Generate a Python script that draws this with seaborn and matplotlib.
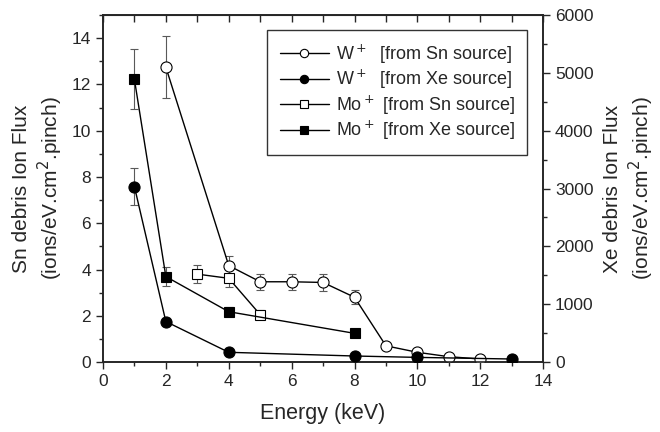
import numpy as np
import pandas as pd
import matplotlib
matplotlib.use("Agg")
import matplotlib.pyplot as plt
import seaborn as sns
from matplotlib.ticker import MultipleLocator

# W+ from Sn source (left axis)
w_sn_e = [2, 4, 5, 6, 7, 8, 9, 10, 11, 12]
w_sn_flux = [12.75, 4.17, 3.47, 3.47, 3.44, 2.8, 0.7, 0.42, 0.23, 0.13]
w_sn_err = [1.35, 0.42, 0.35, 0.35, 0.35, 0.3, 0.1, 0.08, 0.06, 0.05]

# Mo+ from Sn source (left axis)
mo_sn_e = [3, 4, 5]
mo_sn_flux = [3.8, 3.62, 2.05]
mo_sn_err = [0.4, 0.38, 0.2]

# W+ from Xe source (right axis)
w_xe_e = [1, 2, 4, 8, 10, 13]
w_xe_flux = [3035, 700, 168, 104, 80, 52]
w_xe_err = [320, 60, 20, 15, 12, 10]

# Mo+ from Xe source (right axis)
mo_xe_e = [1, 2, 4, 8]
mo_xe_flux = [4890, 1478, 870, 496]
mo_xe_err = [520, 160, 80, 20]

sns.set_style("ticks")
plt.rcParams['font.family'] = ['Liberation Sans', 'DejaVu Sans']

fig = plt.figure(figsize=(6.6, 4.32), dpi=100)
ax = fig.add_axes([0.156, 0.162, 0.667, 0.803])
ax2 = ax.twinx()


def draw(axis, e, flux, err, marker, filled, label):
    df = pd.DataFrame({"e": e, "flux": flux})
    axis.errorbar(e, flux, yerr=err, fmt="none", ecolor="0.35", elinewidth=0.8,
                  capsize=3, capthick=0.8, zorder=2)
    sns.lineplot(data=df, x="e", y="flux", ax=axis, color="black", lw=1.0,
                 marker=marker, markersize=8 if marker == "o" else 7,
                 markerfacecolor="black" if filled else "white",
                 markeredgecolor="black", markeredgewidth=0.8,
                 label=label, legend=False, zorder=3)


draw(ax, w_sn_e, w_sn_flux, w_sn_err, "o", False, r"W$^+$  [from Sn source]")
draw(ax, mo_sn_e, mo_sn_flux, mo_sn_err, "s", False, r"Mo$^+$ [from Sn source]")
draw(ax2, w_xe_e, w_xe_flux, w_xe_err, "o", True, r"W$^+$  [from Xe source]")
draw(ax2, mo_xe_e, mo_xe_flux, mo_xe_err, "s", True, r"Mo$^+$ [from Xe source]")

ax.set_xlim(0, 14)
ax.set_ylim(0, 15)
ax2.set_ylim(0, 6000)
ax.xaxis.set_major_locator(MultipleLocator(2))
ax.xaxis.set_minor_locator(MultipleLocator(1))
ax.yaxis.set_major_locator(MultipleLocator(2))
ax.yaxis.set_minor_locator(MultipleLocator(1))
ax2.yaxis.set_major_locator(MultipleLocator(1000))
ax2.yaxis.set_minor_locator(MultipleLocator(500))

ax.tick_params(which="major", direction="out", length=5, width=1, labelsize=12.5)
ax.tick_params(which="minor", direction="out", length=3, width=1)
ax2.tick_params(which="major", direction="out", length=5, width=1, labelsize=12.5)
ax2.tick_params(which="minor", direction="out", length=3, width=1)

top = ax.secondary_xaxis("top")
top.xaxis.set_major_locator(MultipleLocator(1))
top.tick_params(direction="in", length=5, width=1, labeltop=False)

for a in (ax, ax2):
    for s in a.spines.values():
        s.set_linewidth(1.2)
        s.set_visible(True)

ax.set_xlabel("Energy (keV)", fontsize=15.5, labelpad=10)
ax.set_ylabel("Sn debris Ion Flux\n(ions/eV.cm$^2$.pinch)", fontsize=15, labelpad=5)
ax2.set_ylabel("Xe debris Ion Flux\n(ions/eV.cm$^2$.pinch)", fontsize=15, labelpad=7)

h1, l1 = ax.get_legend_handles_labels()
h2, l2 = ax2.get_legend_handles_labels()
handles = [h1[0], h2[0], h1[1], h2[1]]
labels = [l1[0], l2[0], l1[1], l2[1]]
leg = ax2.legend(handles, labels, loc="upper right", bbox_to_anchor=(0.964, 0.957),
                 borderaxespad=0, fontsize=13, frameon=True, fancybox=False,
                 edgecolor="black", handlelength=2.7, borderpad=0.7,
                 labelspacing=0.12, handletextpad=0.4)
leg.get_frame().set_linewidth(1.0)
for lh in leg.legend_handles:
    lh.set_markersize(6)

fig.savefig("out.png", dpi=100)
